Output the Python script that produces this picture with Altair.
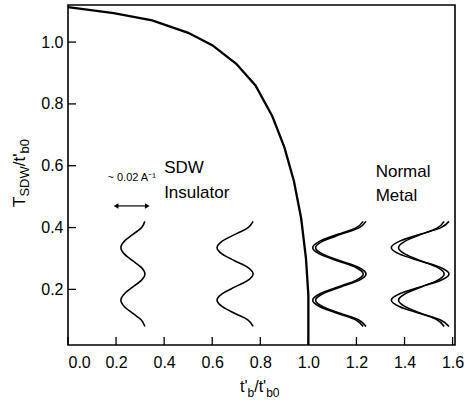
import altair as alt
import pandas as pd

# ---- data ----
boundary_t = [0.0, 0.19, 0.35, 0.5, 0.6, 0.7, 0.78, 0.85, 0.9, 0.94, 0.97, 0.99, 1.0, 1.0]
boundary_T = [1.113, 1.094, 1.07, 1.03, 0.99, 0.93, 0.86, 0.76, 0.66, 0.55, 0.43, 0.30, 0.18, 0.02]

wave_y = [0.42, 0.399, 0.378, 0.356, 0.335, 0.314, 0.292, 0.271, 0.25,
          0.229, 0.208, 0.186, 0.165, 0.144, 0.122, 0.101, 0.08]
wave1_x = [0.32, 0.305, 0.27, 0.235, 0.22, 0.235, 0.27, 0.305, 0.32,
           0.305, 0.27, 0.235, 0.22, 0.235, 0.27, 0.305, 0.32]
wave2_x = [0.77, 0.748, 0.695, 0.642, 0.62, 0.642, 0.695, 0.748, 0.77,
           0.748, 0.695, 0.642, 0.62, 0.642, 0.695, 0.748, 0.77]
wave3a_x = [1.24, 1.21, 1.135, 1.06, 1.03, 1.06, 1.135, 1.21, 1.24,
            1.21, 1.135, 1.06, 1.03, 1.06, 1.135, 1.21, 1.24]
wave3b_x = [1.228, 1.198, 1.123, 1.048, 1.018, 1.048, 1.123, 1.198, 1.228,
            1.198, 1.123, 1.048, 1.018, 1.048, 1.123, 1.198, 1.228]
wave4a_x = [1.585, 1.55, 1.465, 1.38, 1.345, 1.38, 1.465, 1.55, 1.585,
            1.55, 1.465, 1.38, 1.345, 1.38, 1.465, 1.55, 1.585]
wave4b_x = [1.565, 1.537, 1.47, 1.403, 1.375, 1.403, 1.47, 1.537, 1.565,
            1.537, 1.47, 1.403, 1.375, 1.403, 1.47, 1.537, 1.565]

x_ticks = [0.0, 0.2, 0.4, 0.6, 0.8, 1.0, 1.2, 1.4, 1.6]
y_ticks = [0.2, 0.4, 0.6, 0.8, 1.0]

arrow_x = [0.20, 0.33]
arrow_y = 0.47

FONT = "Liberation Sans"
W, H = 387, 340

xs = alt.Scale(domain=[0, 1.61], nice=False, zero=False)
ys = alt.Scale(domain=[0.02, 1.12], nice=False, zero=False)

bdf = pd.DataFrame({"t": boundary_t, "T": boundary_T, "o": range(len(boundary_t))})

rows = []
for name, xv in [("w1", wave1_x), ("w2", wave2_x), ("w3a", wave3a_x), ("w3b", wave3b_x),
                 ("w4a", wave4a_x), ("w4b", wave4b_x)]:
    for i, (xx, yy) in enumerate(zip(xv, wave_y)):
        rows.append({"curve": name, "x": xx, "y": yy, "o": i})
wdf = pd.DataFrame(rows)

xaxis = alt.Axis(values=x_ticks, format=".1f", labelFont=FONT, labelFontSize=16,
                 labelColor="black", ticks=False, domain=False, grid=False,
                 labelPadding=9, title=None)
yaxis = alt.Axis(values=y_ticks, format=".1f", labelFont=FONT, labelFontSize=16,
                 labelColor="black", ticks=False, domain=False, grid=False,
                 labelPadding=5, title=None)

frame = alt.Chart(pd.DataFrame({"k": [0]})).mark_rect(
    filled=False, stroke="black", strokeWidth=1.6, fillOpacity=0).encode(
    x=alt.value(0), x2=alt.value(W), y=alt.value(0), y2=alt.value(H))

boundary = alt.Chart(bdf).mark_line(color="black", strokeWidth=2.3, interpolate="linear").encode(
    x=alt.X("t:Q", scale=xs, axis=xaxis),
    y=alt.Y("T:Q", scale=ys, axis=yaxis),
    order="o:Q",
)

waves = alt.Chart(wdf).mark_line(color="black", strokeWidth=1.6, interpolate="cardinal").encode(
    x=alt.X("x:Q", scale=xs),
    y=alt.Y("y:Q", scale=ys),
    detail="curve:N",
    order="o:Q",
)

xt = alt.Chart(pd.DataFrame({"v": x_ticks})).mark_rule(color="black", strokeWidth=1.3).encode(
    x=alt.X("v:Q", scale=xs), y=alt.value(H), y2=alt.value(H - 8))
yt = alt.Chart(pd.DataFrame({"v": y_ticks})).mark_rule(color="black", strokeWidth=1.3).encode(
    y=alt.Y("v:Q", scale=ys), x=alt.value(0), x2=alt.value(8))

adf = pd.DataFrame({"x1": [arrow_x[0]], "x2": [arrow_x[1]], "y": [arrow_y]})
arrow_line = alt.Chart(adf).mark_rule(color="black", strokeWidth=1.2).encode(
    x=alt.X("x1:Q", scale=xs), x2="x2:Q", y=alt.Y("y:Q", scale=ys))
heads = alt.Chart(pd.DataFrame({"x": arrow_x, "y": [arrow_y] * 2,
                                "s": ["triangle-left", "triangle-right"]})).mark_point(
    filled=True, color="black", size=30, opacity=1).encode(
    x=alt.X("x:Q", scale=xs), y=alt.Y("y:Q", scale=ys),
    shape=alt.Shape("s:N", scale=None))

ann = pd.DataFrame({
    "x": [0.265, 0.40, 0.40, 1.28, 1.28],
    "y": [0.55, 0.575, 0.495, 0.565, 0.485],
    "txt": ["~ 0.02 A\u207b\u00b9", "SDW", "Insulator", "Normal", "Metal"],
    "fs": [11, 17, 17, 17, 17],
    "al": ["center", "left", "left", "left", "left"],
})
texts = []
for _, r in ann.iterrows():
    texts.append(alt.Chart(pd.DataFrame([r])).mark_text(
        font=FONT, fontSize=int(r["fs"]), align=r["al"], baseline="alphabetic", color="black").encode(
        x=alt.X("x:Q", scale=xs), y=alt.Y("y:Q", scale=ys), text="txt:N"))

def piece(txt, px, py, fs, angle=0):
    kw = dict(font=FONT, fontSize=fs, align="left", baseline="alphabetic", color="black")
    if angle:
        kw["angle"] = angle
    return alt.Chart(pd.DataFrame({"t": [txt]})).mark_text(**kw).encode(
        x=alt.value(px), y=alt.value(py), text="t:N")

OX, OY = 68, 5
xt_pieces = [("t'", 240, 392, 16), ("b", 247.5, 397, 12), ("/t'", 254.2, 392, 16), ("b0", 266.2, 397, 12)]
yt_pieces = [("T", 25, 207, 17), ("SDW", 29, 196.6, 13), ("/t'", 25, 166.3, 17), ("b0", 29, 153.6, 13)]
title_marks = [piece(t, px - OX, py - OY, fs) for t, px, py, fs in xt_pieces]
title_marks += [piece(t, px - OX, py - OY, fs, 270) for t, px, py, fs in yt_pieces]

chart = alt.layer(frame, boundary, waves, xt, yt, arrow_line, heads, *texts, *title_marks).properties(
    width=W, height=H,
    autosize=alt.AutoSizeParams(type="none"),
    padding={"left": 68, "top": 5, "right": 9, "bottom": 55},
    background="white",
).configure_view(strokeOpacity=0)

chart.save("out.html", embed_options={"renderer": "svg", "actions": False})
